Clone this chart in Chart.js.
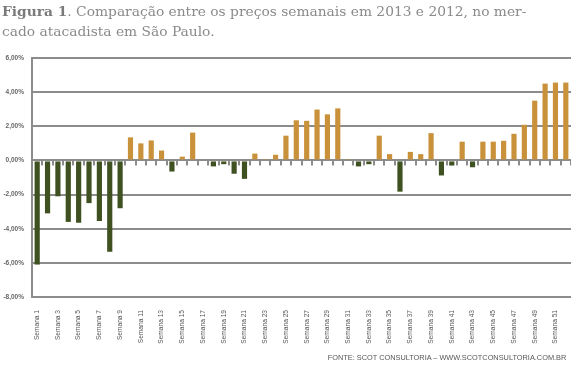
<!DOCTYPE html>
<html>
<head>
<meta charset="utf-8">
<script src="https://cdn.jsdelivr.net/npm/chart.js@4.4.0/dist/chart.umd.min.js"></script>
<style>
  body { margin: 0; background: #fff; }
  #wrap { position: relative; width: 571px; height: 370px; overflow: hidden; }
  #grafico { position: absolute; left: 0; top: 0; }
  .titulo { position: absolute; left: 2px; top: 1px; font-family: "DejaVu Serif", serif; font-size: 13.8px; line-height: 20px; color: #8a8a8a; white-space: nowrap; }
  .titulo b { color: #7a7a7a; }
  .fonte { position: absolute; right: 5px; top: 353px; font-family: "Liberation Sans Narrow", "Liberation Sans", sans-serif; font-size: 8px; color: #555; white-space: nowrap; transform: scaleX(0.92); transform-origin: right center; }
</style>
</head>
<body>
<div id="wrap">
  <canvas id="grafico" width="571" height="370"></canvas>
  <div class="titulo"><b>Figura 1</b>. Comparação entre os preços semanais em 2013 e 2012, no mer-<br>cado atacadista em São Paulo.</div>
  <div class="fonte">FONTE: SCOT CONSULTORIA – WWW.SCOTCONSULTORIA.COM.BR</div>
</div>
<script>
// semanas (2013 vs 2012)
const semanas = [
  'Semana 1', 'Semana 2', 'Semana 3', 'Semana 4', 'Semana 5', 'Semana 6', 'Semana 7', 'Semana 8',
  'Semana 9', 'Semana 10', 'Semana 11', 'Semana 12', 'Semana 13', 'Semana 14', 'Semana 15', 'Semana 16',
  'Semana 17', 'Semana 18', 'Semana 19', 'Semana 20', 'Semana 21', 'Semana 22', 'Semana 23', 'Semana 24',
  'Semana 25', 'Semana 26', 'Semana 27', 'Semana 28', 'Semana 29', 'Semana 30', 'Semana 31', 'Semana 32',
  'Semana 33', 'Semana 34', 'Semana 35', 'Semana 36', 'Semana 37', 'Semana 38', 'Semana 39', 'Semana 40',
  'Semana 41', 'Semana 42', 'Semana 43', 'Semana 44', 'Semana 45', 'Semana 46', 'Semana 47', 'Semana 48',
  'Semana 49', 'Semana 50', 'Semana 51', 'Semana 52'
];

// variação em %
const variacao = [
  -6.1, -3.1, -2.1, -3.6, -3.65, -2.5, -3.55, -5.35, -2.8, 1.35, 1.0, 1.17, 0.58,
  -0.65, 0.22, 1.63, 0, -0.35, -0.22, -0.78, -1.08, 0.4, 0.08, 0.33, 1.45, 2.35,
  2.32, 2.98, 2.7, 3.05, 0.08, -0.35, -0.22, 1.45, 0.37, -1.83, 0.5, 0.37, 1.6,
  -0.88, -0.3, 1.1, -0.4, 1.1, 1.1, 1.15, 1.56, 2.09, 3.5, 4.5, 4.56, 4.56
];

const eixoY = { min: -8, max: 6, passo: 2 };

const corPositiva = '#c9913a';
const corNegativa = '#3f5120';
const cinza = '#8c8c8c';

// tracinhos do eixo das categorias, desenhados na linha do zero
const marcasZero = {
  id: 'marcasZero',
  beforeDatasetsDraw(chart) {
    const x = chart.scales.x;
    const y0 = chart.scales.y.getPixelForValue(0);
    const n = chart.data.labels.length;
    const ctx = chart.ctx;
    ctx.save();
    ctx.fillStyle = cinza;
    for (let k = 0; k <= n; k++) {
      const px = Math.round(x.left + k * x.width / n);
      ctx.fillRect(px - 1, y0, 2, 5);
    }
    ctx.restore();
  }
};

const ctx = document.getElementById('grafico').getContext('2d');
new Chart(ctx, {
  type: 'bar',
  data: {
    labels: semanas,
    datasets: [{
      data: variacao,
      backgroundColor: variacao.map(v => v < 0 ? corNegativa : corPositiva),
      barPercentage: 0.5,
      categoryPercentage: 1
    }]
  },
  options: {
    responsive: false,
    animation: false,
    devicePixelRatio: 1,
    layout: { padding: { top: 58, right: 0, bottom: 0, left: 0 } },
    plugins: {
      legend: { display: false },
      tooltip: { enabled: false }
    },
    scales: {
      x: {
        afterFit: s => { s.height = 73; s.paddingLeft = 0; s.paddingRight = 0; },
        grid: { display: false },
        border: { display: false },
        ticks: {
          autoSkip: false,
          minRotation: 90,
          maxRotation: 90,
          padding: 5,
          color: '#555',
          font: { family: '"Liberation Sans Narrow", "Liberation Sans", sans-serif', size: 6.6 },
          callback: (v, i) => i % 2 === 0 ? semanas[i] : ''
        }
      },
      y: {
        min: eixoY.min,
        max: eixoY.max,
        afterFit: s => { s.width = 32; },
        grid: { color: cinza, lineWidth: 2, drawTicks: false },
        border: { display: true, color: cinza, width: 2 },
        ticks: {
          stepSize: eixoY.passo,
          padding: 8,
          color: '#666',
          font: { family: '"Liberation Sans Narrow", "Liberation Sans", sans-serif', size: 6.5, weight: 'bold' },
          callback: v => v.toFixed(2).replace('.', ',') + '%'
        }
      }
    }
  },
  plugins: [marcasZero]
});
</script>
</body>
</html>
